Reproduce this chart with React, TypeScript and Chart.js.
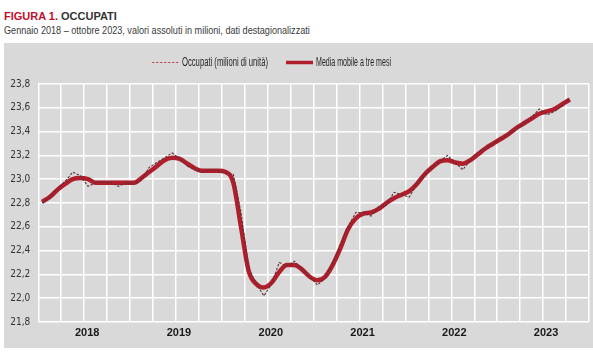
import React, { useEffect, useRef } from 'react';
import { Chart, registerables } from 'chart.js';

Chart.register(...registerables);

// ---- data ----
const YEARS = ['2018', '2019', '2020', '2021', '2022', '2023'];
const MONTH_NAMES = ['gen', 'feb', 'mar', 'apr', 'mag', 'giu', 'lug', 'ago', 'set', 'ott', 'nov', 'dic'];
const MONTHS: string[] = [];
YEARS.forEach((y) => MONTH_NAMES.forEach((m) => MONTHS.push(m + ' ' + y)));
const CATEGORIES = MONTHS.slice(0, 70); // gennaio 2018 - ottobre 2023

const SERIES_NAMES = ['Occupati (milioni di unità)', 'Media mobile a tre mesi'];

const OCCUPATI = [
  22.80, 22.85, 22.92, 22.98, 23.06, 23.03, 22.94, 22.97, 22.98, 22.97, 22.94, 22.97,
  22.96, 22.99, 23.10, 23.14, 23.18, 23.22, 23.17, 23.11, 23.08, 23.06, 23.08, 23.07,
  23.05, 23.04, 22.72, 22.25, 22.12, 22.02, 22.12, 22.30, 22.27, 22.31, 22.24, 22.18,
  22.11, 22.17, 22.30, 22.45, 22.60, 22.72, 22.72, 22.69, 22.77, 22.78, 22.89, 22.87,
  22.85, 22.96, 23.04, 23.10, 23.15, 23.20, 23.14, 23.08, 23.16, 23.23, 23.26, 23.30,
  23.34, 23.38, 23.42, 23.47, 23.52, 23.59, 23.54, 23.57, 23.62, 23.68,
];

const MEDIA_MOBILE = [
  22.81, 22.85, 22.91, 22.96, 23.00, 23.01, 23.00, 22.97, 22.97, 22.97, 22.97, 22.97,
  22.97, 23.01, 23.06, 23.11, 23.16, 23.18, 23.17, 23.13, 23.09, 23.07, 23.07, 23.07,
  23.06, 22.97, 22.60, 22.23, 22.12, 22.09, 22.13, 22.22, 22.28, 22.28, 22.24, 22.18,
  22.15, 22.18, 22.28, 22.42, 22.58, 22.67, 22.71, 22.72, 22.75, 22.80, 22.84, 22.87,
  22.90, 22.96, 23.04, 23.10, 23.15, 23.16, 23.14, 23.13, 23.16, 23.21, 23.26, 23.30,
  23.34, 23.38, 23.43, 23.47, 23.51, 23.55, 23.57, 23.59, 23.63, 23.67,
];

const Y_MIN = 21.8;
const Y_MAX = 23.8;
const Y_STEP = 0.2;

// ---- styles ----
const RED_TITLE = '#c0112b';
const MA_COLOR = '#b01e2c';
const DASH_COLOR = '#5e3036';
const BG = '#d9d9d9';
const NARROW = '"Liberation Sans Narrow", "Arial Narrow", "DejaVu Sans Condensed", sans-serif';
const SANS = '"Liberation Sans", Arial, sans-serif';

const legendPlugin = {
  id: 'customLegend',
  afterDraw(chart: any) {
    const ctx = chart.ctx as CanvasRenderingContext2D;
    const y = 19.5;
    ctx.save();
    ctx.lineCap = 'butt';
    ctx.strokeStyle = '#c0504d';
    ctx.lineWidth = 1;
    ctx.setLineDash([2.5, 1.5]);
    ctx.beginPath();
    ctx.moveTo(148, y);
    ctx.lineTo(175, y);
    ctx.stroke();
    ctx.setLineDash([]);
    ctx.strokeStyle = MA_COLOR;
    ctx.lineWidth = 3.5;
    ctx.beginPath();
    ctx.moveTo(282, y);
    ctx.lineTo(309, y);
    ctx.stroke();
    ctx.font = '12px ' + SANS;
    ctx.fillStyle = '#262626';
    ctx.textBaseline = 'middle';
    const drawFit = (txt: string, x: number, w: number) => {
      const mw = ctx.measureText(txt).width;
      ctx.save();
      ctx.translate(x, y + 0.5);
      ctx.scale(Math.min(1, w / mw), 1);
      ctx.fillText(txt, 0, 0);
      ctx.restore();
    };
    drawFit(SERIES_NAMES[0], 178, 86);
    drawFit(SERIES_NAMES[1], 312, 75);
    ctx.restore();
  },
};

export default function App() {
  const ref = useRef<HTMLCanvasElement>(null);
  const subRef = useRef<HTMLDivElement>(null);

  useEffect(() => {
    if (subRef.current) {
      const w = subRef.current.scrollWidth;
      if (w > 0) subRef.current.style.transform = `scaleX(${306 / w})`;
    }
    if (!ref.current) return;
    const chart = new Chart(ref.current, {
      type: 'line',
      data: {
        datasets: [
          {
            label: SERIES_NAMES[0],
            data: OCCUPATI.map((v, i) => ({ x: i + 0.5, y: v })),
            borderColor: DASH_COLOR,
            borderWidth: 1.1,
            borderDash: [2.5, 1.5],
            pointRadius: 0,
            tension: 0,
            fill: false,
            order: 0,
          },
          {
            label: SERIES_NAMES[1],
            data: MEDIA_MOBILE.map((v, i) => ({ x: i + 0.5, y: v })),
            borderColor: MA_COLOR,
            borderWidth: 4.5,
            pointRadius: 0,
            tension: 0.4,
            cubicInterpolationMode: 'monotone',
            fill: false,
            order: 1,
          },
        ],
      },
      options: {
        responsive: false,
        animation: false,
        events: [],
        layout: { padding: { top: 41, right: 0, bottom: 0, left: 0 } },
        plugins: {
          legend: { display: false },
          tooltip: { enabled: false },
          title: { display: false },
        },
        scales: {
          x: {
            type: 'linear',
            min: 0,
            max: CATEGORIES.length + 2,
            afterFit: (s: any) => { s.height = 26; },
            afterBuildTicks: (s: any) => {
              const t = [];
              for (let v = 0; v <= CATEGORIES.length + 2; v += 3) t.push({ value: v });
              s.ticks = t;
            },
            grid: { color: '#ffffff', lineWidth: 1.5, drawTicks: false },
            border: { display: false },
            ticks: {
              autoSkip: false,
              maxRotation: 0,
              padding: 4,
              labelOffset: 3,
              color: '#1a1a1a',
              font: { family: SANS, size: 11, weight: 'bold' },
              callback: (v: any) => {
                const n = Number(v);
                if (n % 12 === 6) return YEARS[(n - 6) / 12];
                return '';
              },
            },
          },
          y: {
            min: Y_MIN,
            max: Y_MAX,
            afterFit: (s: any) => { s.width = 34.3; },
            grid: { color: '#ffffff', lineWidth: 1.5, drawTicks: false },
            border: { display: false },
            ticks: {
              stepSize: Y_STEP,
              padding: 8,
              color: '#333333',
              font: { family: NARROW, size: 10 },
              callback: (v: any) => Number(v).toFixed(1).replace('.', ','),
            },
          },
        },
      },
      plugins: [legendPlugin],
    } as any);
    return () => chart.destroy();
  }, []);

  return (
    <div style={{ position: 'fixed', left: 0, top: 0, width: 593, height: 364, background: '#fff', overflow: 'hidden' }}>
      <div style={{ position: 'absolute', left: 4, top: 11, fontFamily: SANS, fontSize: 11, fontWeight: 'bold', lineHeight: '11px', whiteSpace: 'nowrap' }}>
        <span style={{ color: RED_TITLE }}>FIGURA 1.</span> <span style={{ color: '#333333' }}>OCCUPATI</span>
      </div>
      <div
        ref={subRef}
        style={{ position: 'absolute', left: 4, top: 25, fontFamily: SANS, fontSize: 11.5, lineHeight: '11.5px', color: '#3a3a3a', whiteSpace: 'nowrap', transformOrigin: 'left top', display: 'inline-block' }}
      >
        Gennaio 2018 – ottobre 2023, valori assoluti in milioni, dati destagionalizzati
      </div>
      <div style={{ position: 'absolute', left: 4, top: 43, width: 589, height: 305, background: BG }}>
        <canvas ref={ref} width={589} height={305} style={{ display: 'block' }} />
      </div>
    </div>
  );
}
